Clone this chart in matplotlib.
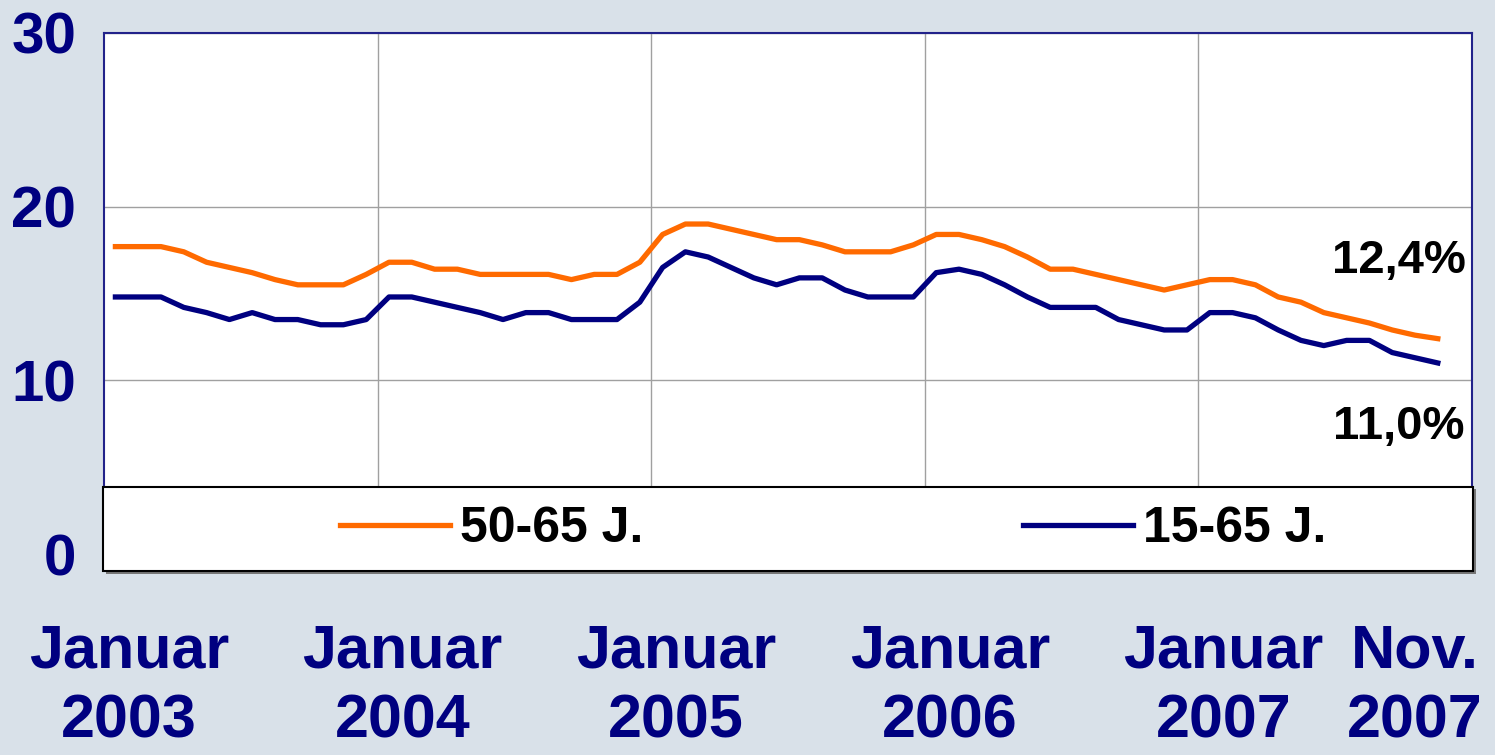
import numpy as np
import matplotlib
matplotlib.use("Agg")
import matplotlib.pyplot as plt
from matplotlib.patches import Rectangle

plt.rcParams['font.family'] = ['Liberation Sans', 'DejaVu Sans']

# monthly rates Jan 2003 .. Nov 2007 (in %)
rate_50_65 = [17.7, 17.7, 17.7, 17.4, 16.8, 16.5, 16.2, 15.8, 15.5, 15.5, 15.5, 16.1,
              16.8, 16.8, 16.4, 16.4, 16.1, 16.1, 16.1, 16.1, 15.8, 16.1, 16.1, 16.8,
              18.4, 19.0, 19.0, 18.7, 18.4, 18.1, 18.1, 17.8, 17.4, 17.4, 17.4, 17.8,
              18.4, 18.4, 18.1, 17.7, 17.1, 16.4, 16.4, 16.1, 15.8, 15.5, 15.2, 15.5,
              15.8, 15.8, 15.5, 14.8, 14.5, 13.9, 13.6, 13.3, 12.9, 12.6, 12.4]
rate_15_65 = [14.8, 14.8, 14.8, 14.2, 13.9, 13.5, 13.9, 13.5, 13.5, 13.2, 13.2, 13.5,
              14.8, 14.8, 14.5, 14.2, 13.9, 13.5, 13.9, 13.9, 13.5, 13.5, 13.5, 14.5,
              16.5, 17.4, 17.1, 16.5, 15.9, 15.5, 15.9, 15.9, 15.2, 14.8, 14.8, 14.8,
              16.2, 16.4, 16.1, 15.5, 14.8, 14.2, 14.2, 14.2, 13.5, 13.2, 12.9, 12.9,
              13.9, 13.9, 13.6, 12.9, 12.3, 12.0, 12.3, 12.3, 11.6, 11.3, 11.0]
series_names = ['50-65 J.', '15-65 J.']
x_labels = ['Januar\n2003', 'Januar\n2004', 'Januar\n2005', 'Januar\n2006',
            'Januar\n2007', 'Nov.\n2007']
end_labels = ['12,4%', '11,0%']

W, H = 1495, 755
bg = '#D9E1E9'
navy = '#000080'
orange = '#FF6A00'

fig = plt.figure(figsize=(W / 100, H / 100), dpi=100, facecolor=bg)
ax = fig.add_axes([104 / W, (H - 554) / H, (1472 - 104) / W, (554 - 33) / H])

months = np.arange(len(rate_50_65))
l1, = ax.plot(months, rate_50_65, color=orange, lw=3.8, solid_joinstyle='round')
l2, = ax.plot(months, rate_15_65, color=navy, lw=3.8, solid_joinstyle='round')

ax.set_xlim(-0.5, 59.5)
ax.set_ylim(0, 30)
ax.set_yticks([0, 10, 20, 30])
ax.set_xticks([0.6, 12.6, 24.6, 36.6, 48.6, 57.0])
ax.set_xticklabels(x_labels, linespacing=1.3)
ax.set_xticks([11.5, 23.5, 35.5, 47.5], minor=True)
ax.tick_params(axis='y', length=0, pad=20, labelsize=42, labelcolor=navy)
ax.tick_params(axis='x', which='both', length=0, pad=50, labelsize=44, labelcolor=navy)
for t in ax.get_xticklabels() + ax.get_yticklabels():
    t.set_fontweight('bold')

ax.grid(axis='y', which='major', color='#A0A0A0', lw=1)
ax.grid(axis='x', which='minor', color='#A0A0A0', lw=1)
ax.set_axisbelow(True)
for s in ax.spines.values():
    s.set_color('#22228A')
    s.set_linewidth(1.5)

ax.text(56.3, 16.9, end_labels[0], fontsize=34, fontweight='bold', ha='center', va='center')
ax.text(56.3, 7.3, end_labels[1], fontsize=34, fontweight='bold', ha='center', va='center')

# legend box
fig.patches.append(Rectangle((106 / W, (H - 574) / H), 1370 / W, 85 / H,
                             transform=fig.transFigure, facecolor='#777777',
                             edgecolor='none', zorder=5))
fig.patches.append(Rectangle((103 / W, (H - 571) / H), 1370 / W, 84 / H,
                             transform=fig.transFigure, facecolor='white',
                             edgecolor='black', lw=1.5, zorder=6))
leg = fig.legend([l1, l2], series_names, loc='center left',
                 bbox_to_anchor=(340 / W, (H - 529) / H), ncol=2, frameon=False,
                 handlelength=2.2, handletextpad=0.2, columnspacing=7.6,
                 borderpad=0, borderaxespad=0,
                 prop={'size': 36, 'weight': 'bold'})
leg.set_zorder(7)

fig.savefig('out.png', dpi=100, facecolor=bg)
